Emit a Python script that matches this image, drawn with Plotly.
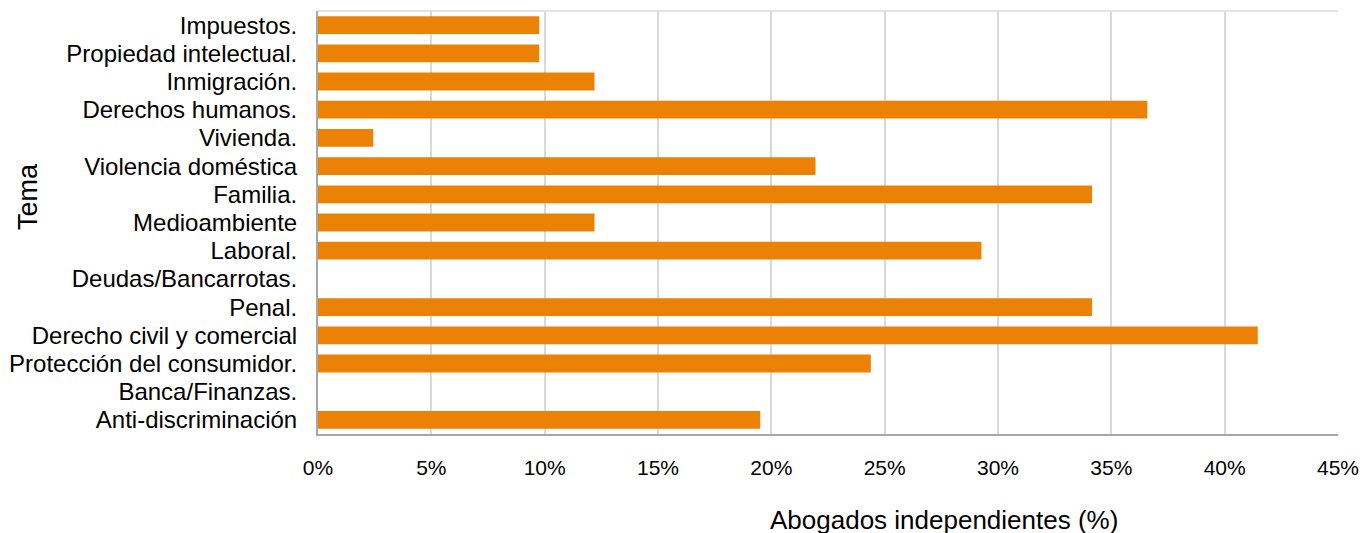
import plotly.graph_objects as go

categories = [
    "Impuestos.", "Propiedad intelectual.", "Inmigración.", "Derechos humanos.",
    "Vivienda.", "Violencia doméstica", "Familia.", "Medioambiente", "Laboral.",
    "Deudas/Bancarrotas.", "Penal.", "Derecho civil y comercial",
    "Protección del consumidor.", "Banca/Finanzas.", "Anti-discriminación",
]
values = [9.76, 9.76, 12.20, 36.59, 2.44, 21.95, 34.15, 12.20, 29.27,
          0.0, 34.15, 41.46, 24.39, 0.0, 19.51]
x_ticks = [0, 5, 10, 15, 20, 25, 30, 35, 40, 45]
x_tick_labels = [f"{t}%" for t in x_ticks]

FONT = "Liberation Sans, Arial, sans-serif"

fig = go.Figure(go.Bar(
    y=categories, x=values, orientation="h",
    marker=dict(color="#EC8205", line=dict(width=0)),
))

fig.update_layout(
    width=1363, height=533,
    margin=dict(l=318, r=25, t=11, b=99),
    plot_bgcolor="white", paper_bgcolor="white",
    bargap=0.37, showlegend=False,
    font=dict(family=FONT, size=20, color="#000000"),
    xaxis=dict(
        range=[0, 45], tickmode="array", tickvals=x_ticks, ticktext=x_tick_labels,
        showgrid=True, gridcolor="#D9D9D9", gridwidth=1.5,
        showline=True, linecolor="#A6A6A6", linewidth=2,
        zeroline=False, ticks="", ticklabelstandoff=14,
        tickfont=dict(size=21), automargin=False,
    ),
    yaxis=dict(
        categoryorder="array", categoryarray=categories, autorange="reversed",
        tickmode="array", tickvals=categories, ticktext=categories,
        showgrid=False, showline=True, linecolor="#A6A6A6", linewidth=2,
        ticks="", ticklabelstandoff=14, tickfont=dict(size=24), automargin=False,
    ),
    shapes=[dict(type="line", xref="paper", yref="paper", x0=0, x1=1, y0=1, y1=1,
                 line=dict(color="#D9D9D9", width=1.5))],
    annotations=[
        dict(text="Abogados independientes (%)", xref="paper", yref="paper",
             x=(944 - 318) / 1020, y=(434 - 520) / 423, xanchor="center", yanchor="middle",
             showarrow=False, font=dict(size=26)),
        dict(text="Tema", xref="paper", yref="paper", x=(28 - 318) / 1020,
             y=1 - (197 - 11) / 423, xanchor="center", yanchor="middle",
             textangle=-90, showarrow=False, font=dict(size=27)),
    ],
)

fig.write_html("out.html", config={"displayModeBar": False},
               post_script="document.body.style.margin='0';")
